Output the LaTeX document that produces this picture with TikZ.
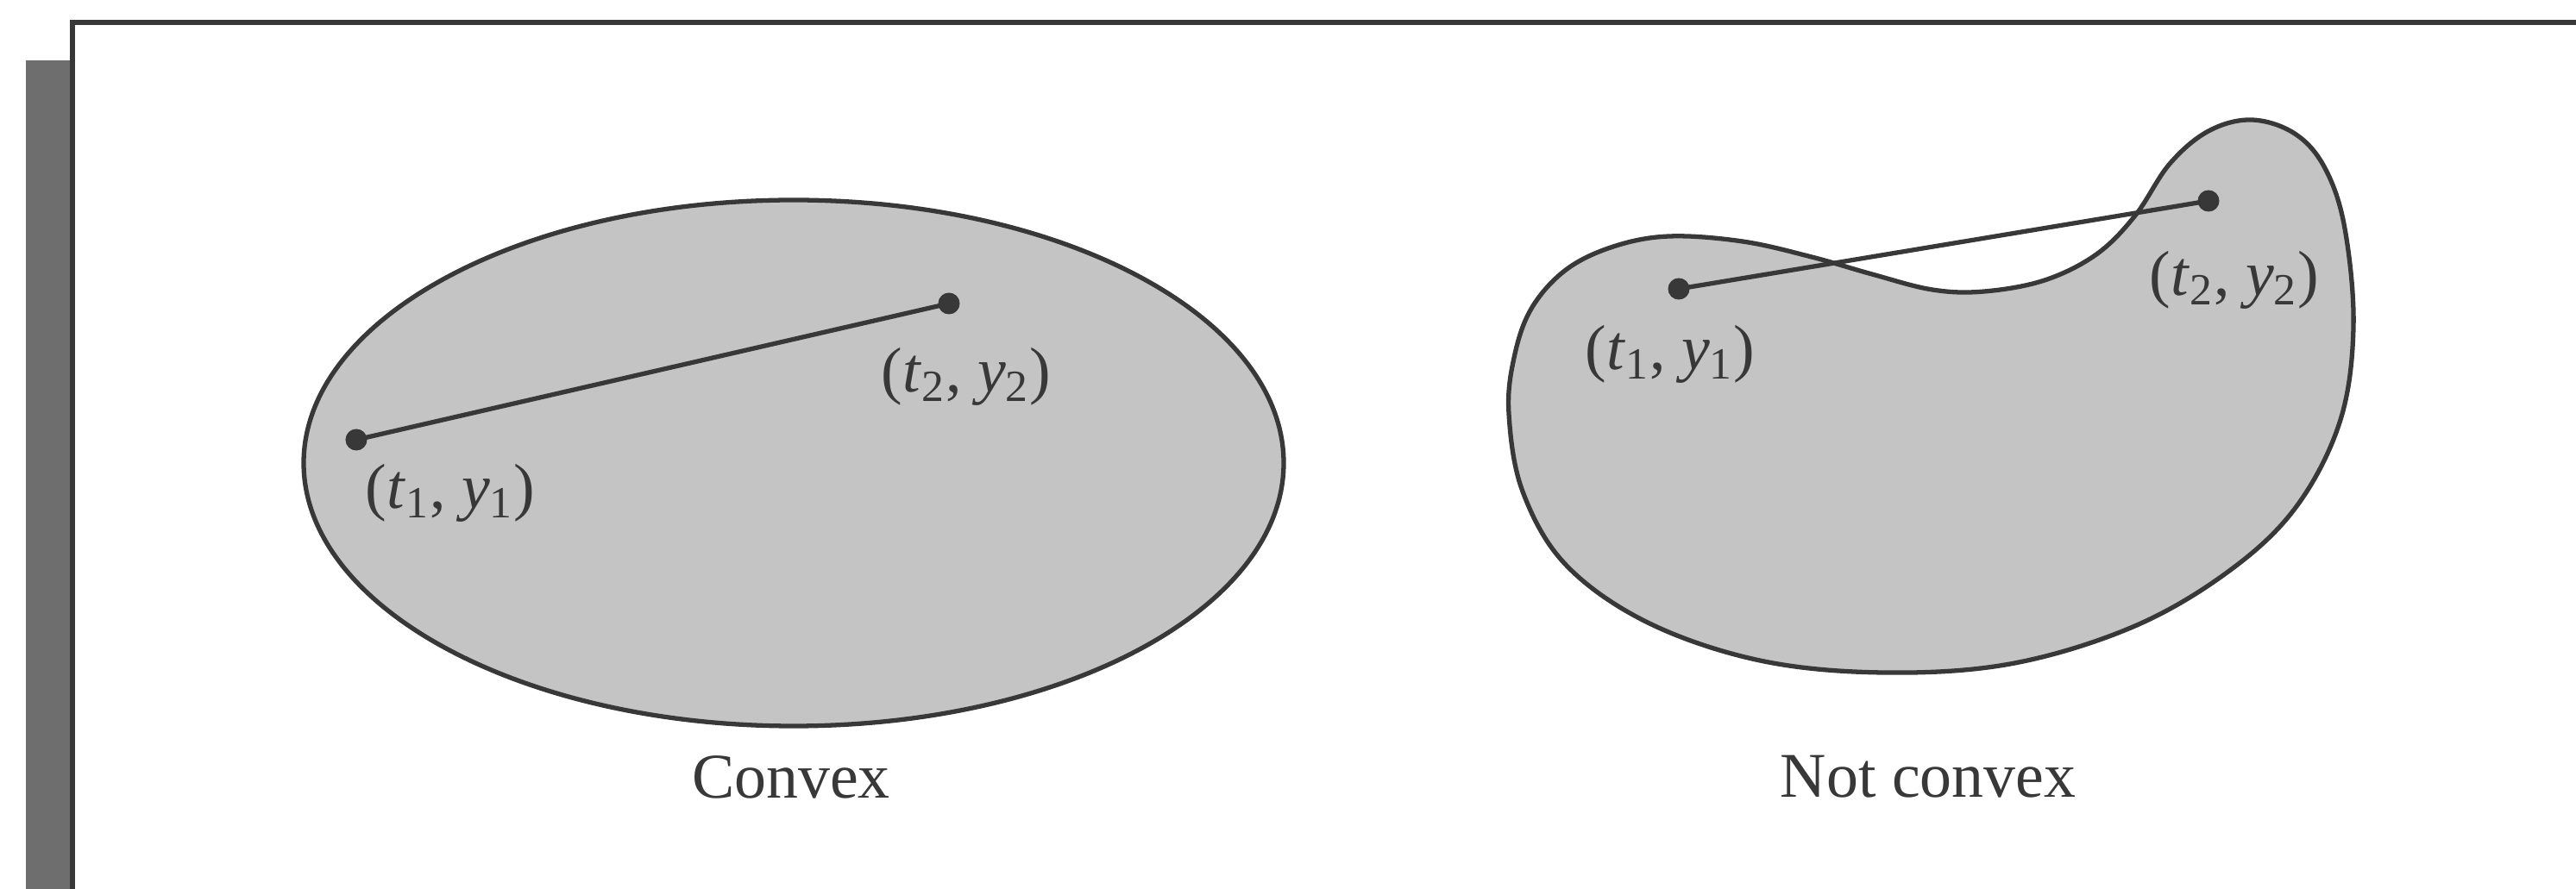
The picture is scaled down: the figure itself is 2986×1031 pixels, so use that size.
\documentclass[tikz,border=0pt]{standalone}
\usepackage{fontspec}
\setmainfont{Liberation Serif}
\usetikzlibrary{positioning}

\definecolor{inkgray}{HTML}{383838}
\definecolor{setfill}{HTML}{C4C4C4}
\definecolor{barfill}{HTML}{6E6E6E}

\begin{document}
\begin{tikzpicture}[
    x=0.01cm, y=-0.01cm,
    region/.style={draw=inkgray, fill=setfill, line width=1.5pt},
    dot/.style={circle, fill=inkgray, inner sep=0pt, minimum size=0.25cm},
    chord/.style={draw=inkgray, line width=1.5pt},
    ptlabel/.style={font=\fontsize{21}{25}\selectfont, text=inkgray},
    caption/.style={font=\fontsize{21}{25}\selectfont, text=inkgray}
  ]
  \useasboundingbox (0,0) rectangle (2986,1031);

  % --- page frame ---
  \fill[barfill] (30,70) rectangle (82,1031);
  \draw[inkgray, line width=1.7pt] (2986,26) -- (84,26) -- (84,1031);

  % --- Convex set: ellipse ---
  \draw[region] (920,537) ellipse [x radius=568, y radius=305];
  \node[dot] (c1) at (413,510) {};
  \node[dot] (c2) at (1100,352) {};
  \draw[chord] (c1.center) -- (c2.center);
  \node[ptlabel] (c1lbl) at (522,572) {(\textit{t}\textsubscript{1}, \textit{y}\textsubscript{1})};
  \node[ptlabel] (c2lbl) at (1120,437) {(\textit{t}\textsubscript{2}, \textit{y}\textsubscript{2})};
  \node[caption] (convex) at (917,901) {Convex};

  % --- Not convex set: kidney ---
  \draw[region] plot[smooth cycle, tension=0.6] coordinates {
    (1749,480) (1755,415) (1775,358) (1815,313) (1870,286) (1935,274)
    (2020,280) (2100,298) (2170,318) (2240,336) (2300,338) (2370,325)
    (2430,295) (2475,250) (2515,190) (2560,152) (2610,139) (2660,155)
    (2695,195) (2718,265) (2728,380) (2712,490) (2660,590) (2580,665)
    (2470,728) (2330,770) (2183,780) (2040,766) (1910,722) (1815,655)
    (1765,570)};
  \node[dot] (k1) at (1946,335) {};
  \node[dot] (k2) at (2560,233) {};
  \draw[chord] (k1.center) -- (k2.center);
  \node[ptlabel] (k1lbl) at (1936,411) {(\textit{t}\textsubscript{1}, \textit{y}\textsubscript{1})};
  \node[ptlabel] (k2lbl) at (2590,325) {(\textit{t}\textsubscript{2}, \textit{y}\textsubscript{2})};
  \node[caption] (notconvex) at (2235,901) {Not convex};

\end{tikzpicture}
\end{document}
